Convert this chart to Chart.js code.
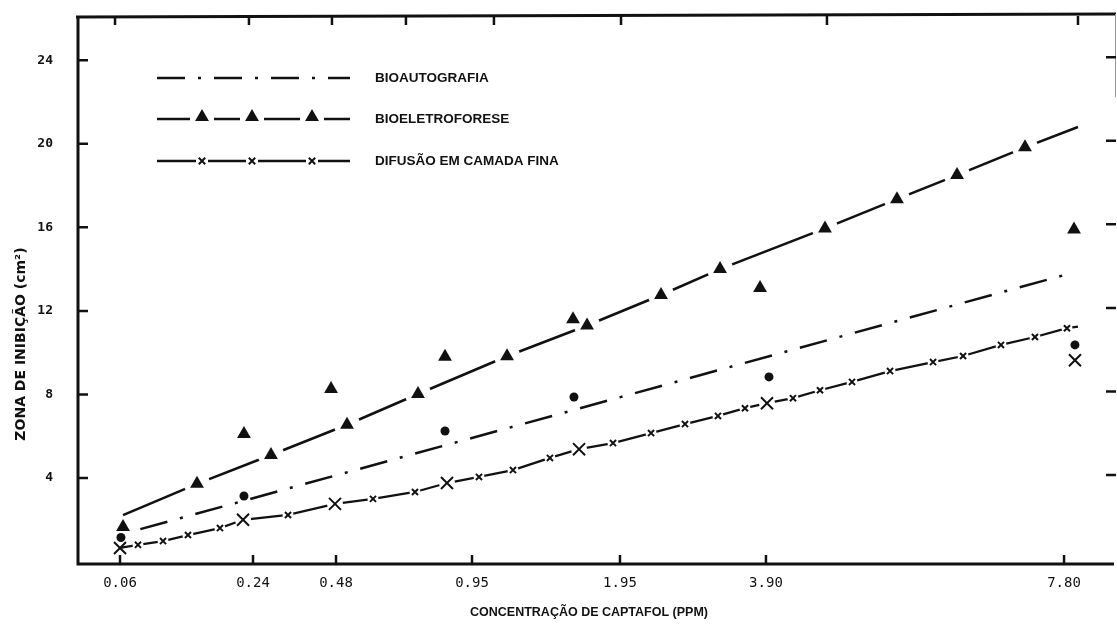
<!DOCTYPE html>
<html>
<head>
<meta charset="utf-8">
<script src="https://cdn.jsdelivr.net/npm/chart.js@4.4.0/dist/chart.umd.min.js"></script>
<style>
    html, body { margin: 0; padding: 0; background: #fff; }
    #chart { display: block; }
</style>
</head>
<body>
<canvas id="chart" width="1117" height="629"></canvas>
<script>
// the concentration axis of the paper is not regular, so x is kept in
// "axis units" (0..100 along the drawn axis) and labelled by hand
var tickPos    = [4.14, 16.94, 24.93, 38.02, 52.26, 66.31, 95.0];
var tickLabels = ["0.06", "0.24", "0.48", "0.95", "1.95", "3.90", "7.80"];
var topTickPos = [3.66, 16.55, 24.54, 31.66, 40.13, 52.36, 72.18, 96.34];
var yTicks     = [4, 8, 12, 16, 20, 24];

// BIOAUTOGRAFIA
var autoFit = [{x: 6.1, y: 1.55}, {x: 96.0, y: 13.85}];
var autoObs = [
    {x: 4.23, y: 1.15}, {x: 16.07, y: 3.14}, {x: 35.42, y: 6.25},
    {x: 47.83, y: 7.88}, {x: 66.60, y: 8.84}, {x: 96.05, y: 10.37}
];

// BIOELETROFORESE
var eletroEnds = [{x: 4.43, y: 2.22}, {x: 96.34, y: 20.8}];
var eletroMarks = [
    {x: 11.55, y: 3.72}, {x: 18.67, y: 5.1}, {x: 25.99, y: 6.55},
    {x: 32.82, y: 8.02}, {x: 41.39, y: 9.83}, {x: 49.09, y: 11.3},
    {x: 56.21, y: 12.76}, {x: 61.89, y: 14.0}, {x: 71.99, y: 15.95},
    {x: 78.92, y: 17.35}, {x: 84.70, y: 18.5}, {x: 91.24, y: 19.83}
];
var eletroObs = [
    {x: 4.43, y: 1.65}, {x: 16.07, y: 6.1}, {x: 24.45, y: 8.26},
    {x: 35.42, y: 9.8}, {x: 47.74, y: 11.6}, {x: 65.74, y: 13.1},
    {x: 95.96, y: 15.9}
];

// DIFUSAO EM CAMADA FINA
var difEnd = [{x: 96.34, y: 11.25}];
var difBig = [
    {x: 4.14, y: 0.65}, {x: 15.98, y: 2.0}, {x: 24.83, y: 2.76},
    {x: 35.61, y: 3.76}, {x: 48.32, y: 5.38}, {x: 66.41, y: 7.58}
];
var difBigOff = [{x: 96.05, y: 9.64}];
var difSmall = [
    {x: 5.87, y: 0.8}, {x: 8.28, y: 0.98}, {x: 10.68, y: 1.27}, {x: 13.76, y: 1.6},
    {x: 20.31, y: 2.23}, {x: 28.49, y: 3.0}, {x: 32.53, y: 3.33}, {x: 38.69, y: 4.05},
    {x: 41.96, y: 4.38}, {x: 45.52, y: 4.96}, {x: 51.59, y: 5.67}, {x: 55.25, y: 6.15},
    {x: 58.52, y: 6.58}, {x: 61.69, y: 6.97}, {x: 64.29, y: 7.34}, {x: 68.91, y: 7.82},
    {x: 71.51, y: 8.2}, {x: 74.59, y: 8.6}, {x: 78.25, y: 9.12}, {x: 82.39, y: 9.55},
    {x: 85.28, y: 9.84}, {x: 88.93, y: 10.37}, {x: 92.20, y: 10.75}, {x: 95.28, y: 11.17}
];

var INK = '#111';
var autoDash = [28, 13, 3, 13];

var eletroLine = [eletroEnds[0]].concat(eletroMarks, [eletroEnds[1]]);
var difLine = difBig.concat(difSmall, difEnd).sort(function (a, b) { return a.x - b.x; });

function lineSet(data, width, dash) {
    return {
        type: 'line', data: data, order: 3,
        borderColor: INK, borderWidth: width, borderDash: dash || [],
        pointRadius: 0, fill: false, tension: 0
    };
}

function halo(data, r) {
    return {
        type: 'scatter', data: data, order: 2,
        pointStyle: 'circle', pointRadius: r,
        pointBackgroundColor: '#fff', pointBorderWidth: 0
    };
}

function marks(data, style, r, width) {
    return {
        type: 'scatter', data: data, order: 1,
        pointStyle: style, pointRadius: r,
        pointBackgroundColor: INK, pointBorderColor: INK,
        pointBorderWidth: width
    };
}

// legend, titles, frame and inward ticks
var paperBits = {
    id: 'paperBits',
    afterDraw: function (chart) {
        var ctx = chart.ctx, a = chart.chartArea;
        var xs = chart.scales.x, ys = chart.scales.y;
        ctx.save();
        ctx.strokeStyle = INK;
        ctx.fillStyle = INK;

        // frame
        ctx.lineWidth = 3;
        ctx.beginPath();
        ctx.moveTo(a.left + 1, a.top);
        ctx.lineTo(a.left + 1, a.bottom + 1);
        ctx.lineTo(a.right - 2, a.bottom + 1);
        ctx.moveTo(a.left - 1, a.top);
        ctx.lineTo(a.right, a.top - 3);
        ctx.stroke();
        ctx.lineWidth = 1;
        ctx.strokeStyle = '#999';
        ctx.beginPath();
        ctx.moveTo(a.right - 0.5, a.top - 3);
        ctx.lineTo(a.right - 0.5, a.top + 80);
        ctx.stroke();
        ctx.strokeStyle = INK;

        // ticks
        ctx.lineWidth = 2.5;
        ctx.beginPath();
        yTicks.forEach(function (v) {
            var y = ys.getPixelForValue(v);
            ctx.moveTo(a.left, y); ctx.lineTo(a.left + 11, y);
            ctx.moveTo(a.right - 10, y - 3); ctx.lineTo(a.right, y - 3);
        });
        tickPos.forEach(function (p) {
            var x = xs.getPixelForValue(p);
            ctx.moveTo(x, a.bottom); ctx.lineTo(x, a.bottom - 8);
        });
        topTickPos.forEach(function (p) {
            var x = xs.getPixelForValue(p);
            ctx.moveTo(x, a.top - 1); ctx.lineTo(x, a.top + 8);
        });
        ctx.stroke();

        // axis titles
        ctx.font = 'bold 12.5px "Liberation Sans", Arial, sans-serif';
        ctx.textAlign = 'center';
        ctx.textBaseline = 'middle';
        ctx.fillText('CONCENTRAÇÃO DE CAPTAFOL (PPM)', 589, 613);
        ctx.save();
        ctx.translate(21, 344);
        ctx.rotate(-Math.PI / 2);
        ctx.font = 'bold 14px "DejaVu Sans", sans-serif';
        ctx.fillText('ZONA DE INIBIÇÃO (cm²)', 0, 0);
        ctx.restore();

        // legend
        var x0 = 157, x1 = 350, tx = 375;
        var rows = [78, 119, 161];
        ctx.font = 'bold 13.5px "Liberation Sans", Arial, sans-serif';
        ctx.textAlign = 'left';
        ctx.fillText('BIOAUTOGRAFIA', tx, rows[0]);
        ctx.fillText('BIOELETROFORESE', tx, rows[1]);
        ctx.fillText('DIFUSÃO EM CAMADA FINA', tx, rows[2]);

        ctx.lineWidth = 2.5;
        ctx.setLineDash(autoDash);
        ctx.beginPath();
        ctx.moveTo(x0, rows[0]); ctx.lineTo(x1, rows[0]);
        ctx.stroke();
        ctx.setLineDash([]);

        var legMarks = [202, 252, 312];
        ctx.beginPath();
        ctx.moveTo(x0, rows[1]); ctx.lineTo(x1, rows[1]);
        ctx.moveTo(x0, rows[2]); ctx.lineTo(x1, rows[2]);
        ctx.stroke();
        ctx.fillStyle = '#fff';
        legMarks.forEach(function (x) {
            ctx.fillRect(x - 12, rows[1] - 4, 24, 8);
            ctx.fillRect(x - 6, rows[2] - 4, 12, 8);
        });
        ctx.fillStyle = INK;
        legMarks.forEach(function (x) {
            var r = 8, y = rows[1] - 2;
            ctx.beginPath();
            ctx.moveTo(x, y - r);
            ctx.lineTo(x + 0.866 * r, y + 0.5 * r);
            ctx.lineTo(x - 0.866 * r, y + 0.5 * r);
            ctx.closePath();
            ctx.fill();
            var d = 3.2;
            ctx.lineWidth = 2;
            ctx.beginPath();
            ctx.moveTo(x - d, rows[2] - d); ctx.lineTo(x + d, rows[2] + d);
            ctx.moveTo(x + d, rows[2] - d); ctx.lineTo(x - d, rows[2] + d);
            ctx.stroke();
        });
        ctx.restore();
    }
};

new Chart(document.getElementById('chart'), {
    type: 'scatter',
    data: {
        datasets: [
            lineSet(autoFit, 2.5, autoDash),
            lineSet(eletroLine, 2.6),
            lineSet(difLine, 2.3),
            halo(eletroMarks, 13),
            halo(difSmall, 5.5),
            halo(difBig.slice(1), 8),
            marks(autoObs, 'circle', 4.5, 0),
            marks(eletroMarks, 'triangle', 8, 0),
            marks(eletroObs, 'triangle', 8, 0),
            marks(difSmall, 'crossRot', 4.3, 2),
            marks(difBig, 'crossRot', 8.5, 2),
            marks(difBigOff, 'crossRot', 8.5, 2)
        ]
    },
    options: {
        responsive: false,
        animation: false,
        events: [],
        layout: { autoPadding: false, padding: { top: 17, right: 1, left: 0, bottom: 0 } },
        plugins: {
            legend: { display: false },
            tooltip: { enabled: false }
        },
        scales: {
            x: {
                type: 'linear', min: 0, max: 100,
                grid: { display: false, drawTicks: false },
                border: { display: false },
                afterBuildTicks: function (s) {
                    s.ticks = tickPos.map(function (p) { return {value: p}; });
                },
                afterFit: function (s) {
                    s.height = 66;
                    s.paddingLeft = 0; s.paddingRight = 0;
                },
                ticks: {
                    autoSkip: false, maxRotation: 0, padding: 12,
                    color: INK,
                    font: { family: '"DejaVu Sans Mono", monospace', size: 14 },
                    callback: function (v, i) { return tickLabels[i]; }
                }
            },
            y: {
                type: 'linear', min: -0.07, max: 26.07,
                grid: { display: false, drawTicks: false },
                border: { display: false },
                afterBuildTicks: function (s) {
                    s.ticks = yTicks.map(function (v) { return {value: v}; });
                },
                afterFit: function (s) {
                    s.width = 77;
                    s.paddingTop = 0; s.paddingBottom = 0;
                },
                ticks: {
                    padding: 24, color: INK,
                    font: { family: '"DejaVu Sans Mono", monospace', size: 13, weight: 'bold' }
                }
            }
        }
    },
    plugins: [paperBits]
});
</script>
</body>
</html>
